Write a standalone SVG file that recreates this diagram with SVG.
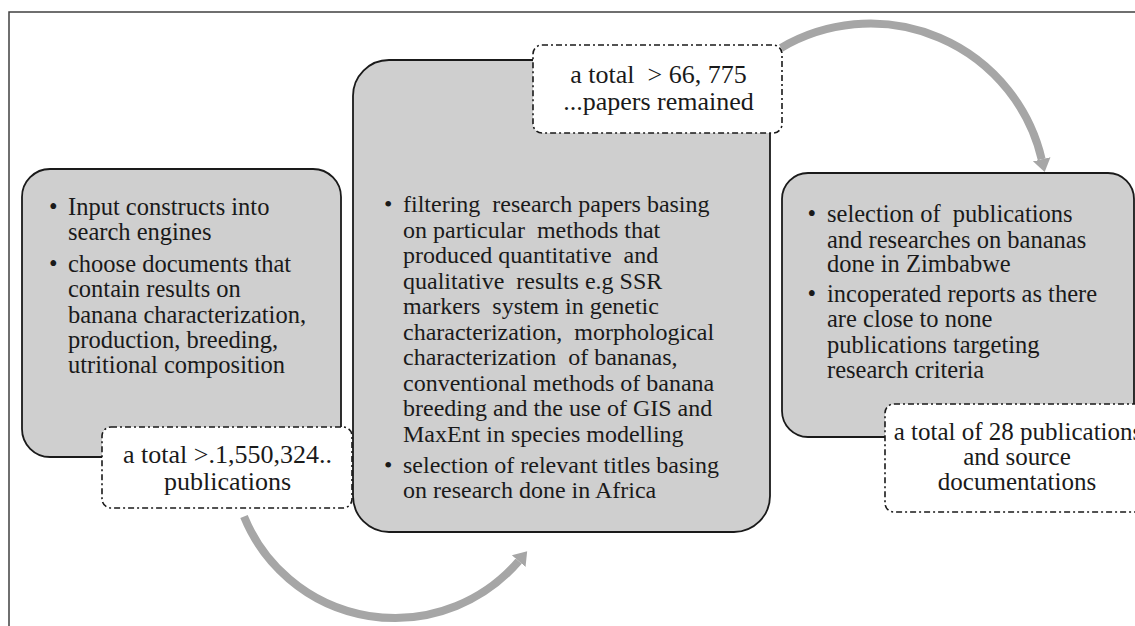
<svg xmlns="http://www.w3.org/2000/svg" width="1135" height="626" viewBox="0 0 1135 626">
<style>
  .box { fill: #cfcfcf; stroke: #1a1a1a; stroke-width: 1.8; }
  .lbl { fill: #ffffff; stroke: #1a1a1a; stroke-width: 1.6; stroke-dasharray: 6 3 2 3; }
  .frame { stroke: #404040; stroke-width: 1.5; fill: none; }
  text { font-family: "Liberation Serif", "Times New Roman", serif; font-size: 24px; fill: #1a1a1a; white-space: pre; }
  .s { font-size: 24.5px; }
  .c { text-anchor: middle; font-size: 26px; }
  .c2 { text-anchor: middle; font-size: 25px; }
  .arrow { fill: none; stroke: #a6a6a6; stroke-width: 8; marker-end: url(#head); }
</style>
<defs>
  <marker id="head" markerUnits="userSpaceOnUse" viewBox="0 -10 14 20" markerWidth="14" markerHeight="20" refX="0" refY="0" orient="auto">
    <path d="M0,-9 L13,0 L0,9 Z" fill="#a6a6a6"/>
  </marker>
</defs>
<rect width="1135" height="626" fill="#ffffff"/>
<g id="frame">
  <path class="frame" d="M9,626 L9,12 L1135,12"/>
</g>
<g id="connectors">
  <path class="arrow" d="M244,516.6 A163,163 0 0 0 518.7,561.1"/>
  <path class="arrow" d="M781,48 A176,176 0 0 1 1041.7,159.3"/>
</g>
<g id="node-search">
  <rect class="box" x="22" y="169" width="319" height="288" rx="28" ry="28"/>
  <text class="s" x="49" y="215">•</text>
  <text class="s" x="68" y="215">Input constructs into</text>
  <text class="s" x="68" y="240">search engines</text>
  <text class="s" x="49" y="272">•</text>
  <text class="s" x="68" y="272">choose documents that</text>
  <text class="s" x="68" y="297">contain results on</text>
  <text class="s" x="68" y="323">banana characterization,</text>
  <text class="s" x="68" y="348">production, breeding,</text>
  <text class="s" x="68" y="373">utritional composition</text>
</g>
<g id="label-search">
  <rect class="lbl" x="102" y="427" width="250" height="81" rx="9" ry="9"/>
  <text class="c" x="227.5" y="462.5">a total &gt;.1,550,324..</text>
  <text class="c" x="227.5" y="490">publications</text>
</g>
<g id="node-filter">
  <rect class="box" x="353" y="60" width="417" height="472" rx="36" ry="36"/>
  <text x="384" y="212">•</text>
  <text x="403" y="212">filtering  research papers basing</text>
  <text x="403" y="237.5">on particular  methods that</text>
  <text x="403" y="263">produced quantitative  and</text>
  <text x="403" y="288.5">qualitative  results e.g SSR</text>
  <text x="403" y="314">markers  system in genetic</text>
  <text x="403" y="339.5">characterization,  morphological</text>
  <text x="403" y="365">characterization  of bananas,</text>
  <text x="403" y="390.5">conventional methods of banana</text>
  <text x="403" y="416">breeding and the use of GIS and</text>
  <text x="403" y="441.5">MaxEnt in species modelling</text>
  <text x="384" y="472.5">•</text>
  <text x="403" y="472.5">selection of relevant titles basing</text>
  <text x="403" y="498">on research done in Africa</text>
</g>
<g id="label-filter">
  <rect class="lbl" x="533" y="45" width="249" height="88" rx="9" ry="9"/>
  <text class="c" x="658.5" y="83">a total  &gt; 66, 775</text>
  <text class="c" x="658.5" y="110">...papers remained</text>
</g>
<g id="node-select">
  <rect class="box" x="782" y="173" width="352" height="264" rx="26" ry="26"/>
  <text class="s" x="807.5" y="222">•</text>
  <text class="s" x="827" y="222">selection of  publications</text>
  <text class="s" x="827" y="247.5">and researches on bananas</text>
  <text class="s" x="827" y="272">done in Zimbabwe</text>
  <text class="s" x="807.5" y="302">•</text>
  <text class="s" x="827" y="302">incoperated reports as there</text>
  <text class="s" x="827" y="327">are close to none</text>
  <text class="s" x="827" y="352.5">publications targeting</text>
  <text class="s" x="827" y="378">research criteria</text>
</g>
<g id="label-select">
  <rect class="lbl" x="885" y="404" width="264" height="108" rx="9" ry="9"/>
  <text class="c2" x="1018" y="440">a total of 28 publications</text>
  <text class="c2" x="1017" y="465">and source</text>
  <text class="c2" x="1017" y="490">documentations</text>
</g>
</svg>
